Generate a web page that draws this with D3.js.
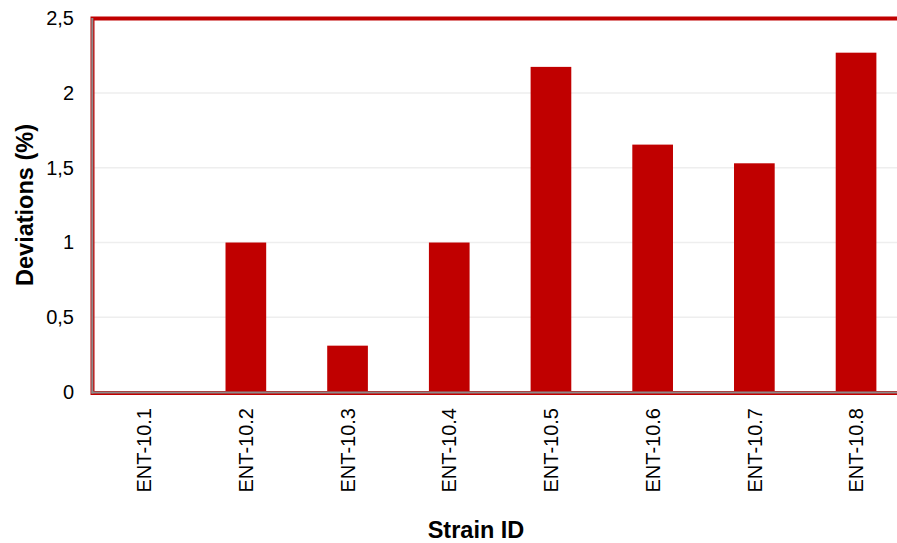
<!DOCTYPE html>
<html><head><meta charset="utf-8">
<script src="https://cdn.jsdelivr.net/npm/d3@7"></script>
<style>body{margin:0;background:#fff}svg{display:block}text{font-family:"Liberation Sans",Arial,sans-serif;fill:#000}</style>
</head><body>
<svg id="c" width="897" height="543"></svg>
<script>
const categories = ["ENT-10.1","ENT-10.2","ENT-10.3","ENT-10.4","ENT-10.5","ENT-10.6","ENT-10.7","ENT-10.8"];
const values = [0, 1.0, 0.31, 1.0, 2.175, 1.655, 1.53, 2.27];
const yTicks = [0, 0.5, 1, 1.5, 2, 2.5];
const yTickLabels = ["0","0,5","1","1,5","2","2,5"];

const svg = d3.select("#c");
const L = 93.3, R = 906.9, T = 18.3, B = 392;
const x = d3.scaleBand().domain(categories).range([L, R]).paddingInner(0.6).paddingOuter(0.3);
const y = d3.scaleLinear().domain([0, 2.5]).range([B, T]);

// gridlines
svg.append("g").selectAll("line").data(yTicks.slice(1)).join("line")
  .attr("x1", L).attr("x2", 897).attr("y1", d => y(d)).attr("y2", d => y(d))
  .attr("stroke", "#eeeeee").attr("stroke-width", 1.6);

// bars
svg.append("g").selectAll("rect").data(categories).join("rect")
  .attr("x", d => x(d)).attr("width", x.bandwidth())
  .attr("y", (d, i) => y(values[i])).attr("height", (d, i) => B - y(values[i]))
  .attr("fill", "#c00000");

// frame
svg.append("rect").attr("x", 92.5).attr("y", 18.5).attr("width", 906.9 - 92.5).attr("height", 393 - 18.5)
  .attr("fill", "none").attr("stroke", "#c00000").attr("stroke-width", 4);
// axis lines
svg.append("line").attr("x1", 92.3).attr("x2", 92.3).attr("y1", 18).attr("y2", 393.5).attr("stroke", "#8c8c8c").attr("stroke-width", 2);
svg.append("line").attr("x1", 91.5).attr("x2", 897).attr("y1", 392.6).attr("y2", 392.6).attr("stroke", "#8c8c8c").attr("stroke-width", 2);

// y axis ticks
const yAxis = d3.axisLeft(y).tickValues(yTicks).tickFormat((d, i) => yTickLabels[i]).tickSize(0).tickPadding(0);
const gy = svg.append("g").attr("transform", "translate(74,0)").call(yAxis);
gy.select(".domain").remove();
gy.selectAll("text").attr("font-size", 20).attr("font-family", "Liberation Sans, Arial, sans-serif").attr("fill", "#000");

// x axis ticks
const xAxis = d3.axisBottom(x).tickSize(0).tickPadding(0);
const gx = svg.append("g").attr("transform", "translate(0,408)").call(xAxis);
gx.select(".domain").remove();
gx.selectAll("text").attr("font-size", 20).attr("font-family", "Liberation Sans, Arial, sans-serif").attr("fill", "#000")
  .attr("transform", "rotate(-90)").attr("text-anchor", "end").attr("x", 0).attr("y", 0).attr("dy", "0.36em");

// axis titles
svg.append("text").attr("x", 476).attr("y", 538).attr("text-anchor", "middle")
  .attr("font-size", 23.5).attr("font-weight", "bold").text("Strain ID");
svg.append("text").attr("transform", "translate(33,205) rotate(-90)").attr("text-anchor", "middle")
  .attr("font-size", 23.5).attr("font-weight", "bold").text("Deviations (%)");
</script>
</body></html>
